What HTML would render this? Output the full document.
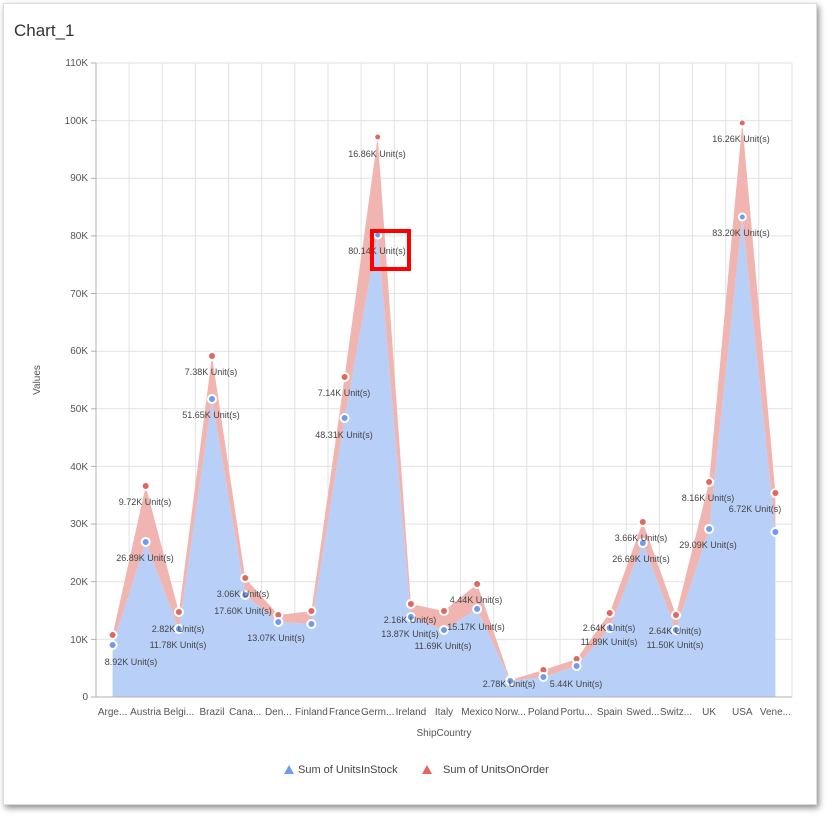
<!DOCTYPE html>
<html><head><meta charset="utf-8"><style>
body{margin:0;background:#fff;width:835px;height:823px;overflow:hidden;font-family:"Liberation Sans",sans-serif}
.card{position:absolute;left:3px;top:3px;width:812px;height:800px;background:#fff;box-shadow:2px 3px 6px rgba(0,0,0,.45);border:1px solid #ddd}
</style></head><body>
<div class="card"></div>
<svg width="835" height="823" style="position:absolute;left:0;top:0" font-family="Liberation Sans, sans-serif">
<text x="14" y="36" font-size="17" fill="#333">Chart_1</text>
<g stroke="#e2e2e2" stroke-width="1">
<line x1="96" x2="792" y1="639.4" y2="639.4"/><line x1="96" x2="792" y1="581.7" y2="581.7"/><line x1="96" x2="792" y1="524.1" y2="524.1"/><line x1="96" x2="792" y1="466.4" y2="466.4"/><line x1="96" x2="792" y1="408.8" y2="408.8"/><line x1="96" x2="792" y1="351.2" y2="351.2"/><line x1="96" x2="792" y1="293.5" y2="293.5"/><line x1="96" x2="792" y1="235.9" y2="235.9"/><line x1="96" x2="792" y1="178.3" y2="178.3"/><line x1="96" x2="792" y1="120.6" y2="120.6"/><line x1="96" x2="792" y1="63" y2="63"/>
<line x1="129.1" x2="129.1" y1="63" y2="697"/><line x1="162.3" x2="162.3" y1="63" y2="697"/><line x1="195.4" x2="195.4" y1="63" y2="697"/><line x1="228.6" x2="228.6" y1="63" y2="697"/><line x1="261.7" x2="261.7" y1="63" y2="697"/><line x1="294.8" x2="294.8" y1="63" y2="697"/><line x1="328" x2="328" y1="63" y2="697"/><line x1="361.1" x2="361.1" y1="63" y2="697"/><line x1="394.3" x2="394.3" y1="63" y2="697"/><line x1="427.4" x2="427.4" y1="63" y2="697"/><line x1="460.5" x2="460.5" y1="63" y2="697"/><line x1="493.7" x2="493.7" y1="63" y2="697"/><line x1="526.8" x2="526.8" y1="63" y2="697"/><line x1="560" x2="560" y1="63" y2="697"/><line x1="593.1" x2="593.1" y1="63" y2="697"/><line x1="626.2" x2="626.2" y1="63" y2="697"/><line x1="659.4" x2="659.4" y1="63" y2="697"/><line x1="692.5" x2="692.5" y1="63" y2="697"/><line x1="725.7" x2="725.7" y1="63" y2="697"/><line x1="758.8" x2="758.8" y1="63" y2="697"/><line x1="792" x2="792" y1="63" y2="697"/>
</g>
<polygon fill="#b8cff8" points="112.6,697 112.6,645 145.7,542 178.9,629 212,399 245.2,595 278.3,622 311.4,624 344.6,418 377.7,235 410.9,617 444,630 477.1,609 510.3,681 543.4,677 576.6,666 609.7,628 642.8,543 676,630 709.1,529 742.3,217 775.4,532 775.4,697"/>
<polygon fill="#f0b5b0" points="112.6,635 145.7,486 178.9,612 212,356 245.2,578 278.3,615 311.4,611 344.6,377 377.7,137 410.9,604 444,611 477.1,584 510.3,680 543.4,670 576.6,659 609.7,613 642.8,522 676,615 709.1,482 742.3,123 775.4,493 775.4,532 742.3,217 709.1,529 676,630 642.8,543 609.7,628 576.6,666 543.4,677 510.3,681 477.1,609 444,630 410.9,617 377.7,235 344.6,418 311.4,624 278.3,622 245.2,595 212,399 178.9,629 145.7,542 112.6,645"/>
<g stroke="#b0b0b0"><line x1="96" x2="96" y1="63" y2="697"/><line x1="96" x2="792" y1="697" y2="697"/></g>
<g stroke="#b0b0b0"><line x1="91" x2="96" y1="697" y2="697"/><line x1="91" x2="96" y1="639.4" y2="639.4"/><line x1="91" x2="96" y1="581.7" y2="581.7"/><line x1="91" x2="96" y1="524.1" y2="524.1"/><line x1="91" x2="96" y1="466.4" y2="466.4"/><line x1="91" x2="96" y1="408.8" y2="408.8"/><line x1="91" x2="96" y1="351.2" y2="351.2"/><line x1="91" x2="96" y1="293.5" y2="293.5"/><line x1="91" x2="96" y1="235.9" y2="235.9"/><line x1="91" x2="96" y1="178.3" y2="178.3"/><line x1="91" x2="96" y1="120.6" y2="120.6"/><line x1="91" x2="96" y1="63" y2="63"/></g>
<g font-size="10" fill="#555" text-anchor="end">
<text x="88" y="700">0</text><text x="88" y="643">10K</text><text x="88" y="585">20K</text><text x="88" y="527">30K</text><text x="88" y="470">40K</text><text x="88" y="412">50K</text><text x="88" y="354">60K</text><text x="88" y="297">70K</text><text x="88" y="239">80K</text><text x="88" y="181">90K</text><text x="88" y="124">100K</text><text x="88" y="66">110K</text>
</g>
<text x="40" y="380" font-size="10" fill="#555" text-anchor="middle" transform="rotate(-90 40 380)">Values</text>
<g font-size="10" fill="#555" text-anchor="middle">
<text x="112.6" y="715">Arge...</text><text x="145.7" y="715">Austria</text><text x="178.9" y="715">Belgi...</text><text x="212" y="715">Brazil</text><text x="245.2" y="715">Cana...</text><text x="278.3" y="715">Den...</text><text x="311.4" y="715">Finland</text><text x="344.6" y="715">France</text><text x="377.7" y="715">Germ...</text><text x="410.9" y="715">Ireland</text><text x="444" y="715">Italy</text><text x="477.1" y="715">Mexico</text><text x="510.3" y="715">Norw...</text><text x="543.4" y="715">Poland</text><text x="576.6" y="715">Portu...</text><text x="609.7" y="715">Spain</text><text x="642.8" y="715">Swed...</text><text x="676" y="715">Switz...</text><text x="709.1" y="715">UK</text><text x="742.3" y="715">USA</text><text x="775.4" y="715">Vene...</text>
<text x="444" y="736">ShipCountry</text>
</g>
<g stroke="#fff" stroke-width="2" fill="#e0685e">
<circle cx="112.6" cy="635" r="4"/><circle cx="145.7" cy="486" r="4"/><circle cx="178.9" cy="612" r="4"/><circle cx="212" cy="356" r="4"/><circle cx="245.2" cy="578" r="4"/><circle cx="278.3" cy="615" r="4"/><circle cx="311.4" cy="611" r="4"/><circle cx="344.6" cy="377" r="4"/><circle cx="377.7" cy="137" r="3.5"/><circle cx="410.9" cy="604" r="4"/><circle cx="444" cy="611" r="4"/><circle cx="477.1" cy="584" r="4"/><circle cx="510.3" cy="680" r="4"/><circle cx="543.4" cy="670" r="4"/><circle cx="576.6" cy="659" r="4"/><circle cx="609.7" cy="613" r="4"/><circle cx="642.8" cy="522" r="4"/><circle cx="676" cy="615" r="4"/><circle cx="709.1" cy="482" r="4"/><circle cx="742.3" cy="123" r="3.5"/><circle cx="775.4" cy="493" r="4"/>
</g>
<g stroke="#fff" stroke-width="2" fill="#6f9cf0">
<circle cx="112.6" cy="645" r="4"/><circle cx="145.7" cy="542" r="4"/><circle cx="178.9" cy="629" r="4"/><circle cx="212" cy="399" r="4"/><circle cx="245.2" cy="595" r="4"/><circle cx="278.3" cy="622" r="4"/><circle cx="311.4" cy="624" r="4"/><circle cx="344.6" cy="418" r="4"/><circle cx="377.7" cy="235" r="3.5"/><circle cx="410.9" cy="617" r="4"/><circle cx="444" cy="630" r="4"/><circle cx="477.1" cy="609" r="4"/><circle cx="510.3" cy="681" r="4"/><circle cx="543.4" cy="677" r="4"/><circle cx="576.6" cy="666" r="4"/><circle cx="609.7" cy="628" r="4"/><circle cx="642.8" cy="543" r="4"/><circle cx="676" cy="630" r="4"/><circle cx="709.1" cy="529" r="4"/><circle cx="742.3" cy="217" r="3.5"/><circle cx="775.4" cy="532" r="4"/>
</g>
<g font-size="9" fill="#444" text-anchor="middle">
<text x="131" y="665">8.92K Unit(s)</text>
<text x="145" y="505">9.72K Unit(s)</text><text x="145" y="561">26.89K Unit(s)</text>
<text x="178" y="632">2.82K Unit(s)</text><text x="178" y="648">11.78K Unit(s)</text>
<text x="211" y="375">7.38K Unit(s)</text><text x="211" y="418">51.65K Unit(s)</text>
<text x="243" y="597">3.06K Unit(s)</text><text x="243" y="614">17.60K Unit(s)</text>
<text x="276" y="641">13.07K Unit(s)</text>
<text x="344" y="396">7.14K Unit(s)</text><text x="344" y="438">48.31K Unit(s)</text>
<text x="377" y="157">16.86K Unit(s)</text><text x="377" y="254">80.14K Unit(s)</text>
<text x="410" y="623">2.16K Unit(s)</text><text x="410" y="637">13.87K Unit(s)</text>
<text x="443" y="649">11.69K Unit(s)</text>
<text x="476" y="603">4.44K Unit(s)</text><text x="476" y="630">15.17K Unit(s)</text>
<text x="509" y="687">2.78K Unit(s)</text>
<text x="576" y="687">5.44K Unit(s)</text>
<text x="609" y="631">2.64K Unit(s)</text><text x="609" y="645">11.89K Unit(s)</text>
<text x="641" y="541">3.66K Unit(s)</text><text x="641" y="562">26.69K Unit(s)</text>
<text x="675" y="634">2.64K Unit(s)</text><text x="675" y="648">11.50K Unit(s)</text>
<text x="708" y="501">8.16K Unit(s)</text><text x="708" y="548">29.09K Unit(s)</text>
<text x="741" y="142">16.26K Unit(s)</text><text x="741" y="236">83.20K Unit(s)</text>
<text x="755" y="512">6.72K Unit(s)</text>
</g>
<rect x="372" y="231" width="37" height="38" fill="none" stroke="#f00" stroke-width="4"/>
<polygon points="284,774 289,765 294,774" fill="#6f9cf0"/>
<text x="298" y="773" font-size="11" fill="#444">Sum of UnitsInStock</text>
<polygon points="422,774 427,765 432,774" fill="#e0685e"/>
<text x="443" y="773" font-size="11" fill="#444">Sum of UnitsOnOrder</text>
</svg>
</body></html>
